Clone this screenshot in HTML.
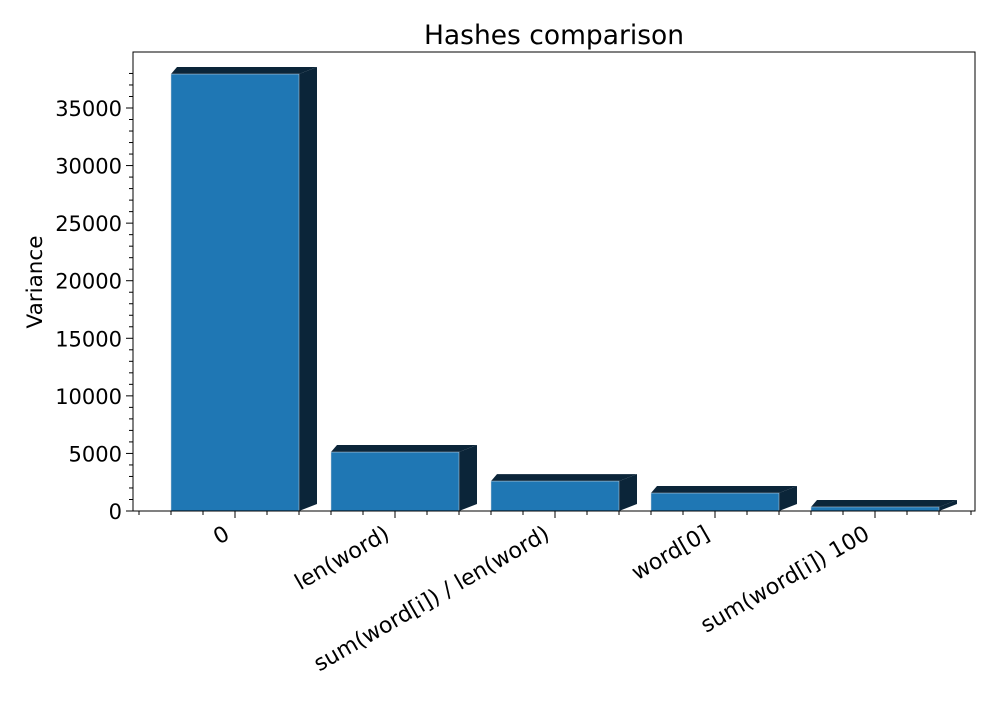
<!DOCTYPE html>
<html><head><meta charset="utf-8"><style>
body{margin:0;background:#fff}
svg{font-family:"DejaVu Sans","Liberation Sans",sans-serif}
</style></head><body>
<svg id="chart" width="1000" height="700" viewBox="0 0 1000 700">
<text x="554" y="44" font-size="26.5" text-anchor="middle">Hashes comparison</text>
<text transform="translate(42,282) rotate(-90)" font-size="21.5" text-anchor="middle">Variance</text>
<g id="bars"></g>
<g id="axes"></g>
<rect x="133" y="52" width="842" height="459" fill="none" stroke="#000" stroke-width="1"/>
</svg>
<script>
const categories = ["0","len(word)","sum(word[i]) / len(word)","word[0]","sum(word[i]) 100"];
const values = [37950, 5120, 2600, 1560, 350];
const yTicks = [0,5000,10000,15000,20000,25000,30000,35000];

const L=133,R=975,T=52,B=511;
const yScale=v=>B-v*(B-108)/35000;
const step=160, x0=235;
const xScale=i=>x0+i*step;
const NS="http://www.w3.org/2000/svg";
function mk(tag,attrs,parent){const e=document.createElementNS(NS,tag);for(const k in attrs)e.setAttribute(k,attrs[k]);parent.appendChild(e);return e;}
const gb=document.getElementById('bars'), ga=document.getElementById('axes');
const hw=64, dx=18, dy=7;
values.forEach((v,i)=>{
  const c=xScale(i), xa=c-hw, xb=c+hw, top=yScale(v);
  const g=mk('g',{},gb);
  
  
  mk('polygon',{points:`${xb},${top} ${xb+dx},${top-dy} ${xb+dx},${B-dy} ${xb},${B}`,fill:'#0b2539'},g);
  mk('polygon',{points:`${xa},${top} ${xa+6},${top-dy} ${xb+dx},${top-dy} ${xb},${top}`,fill:'#0b2539'},g);
  mk('rect',{x:xa,y:top,width:xb-xa,height:B-top,fill:'#1f77b4',stroke:'#c9d3dc','stroke-width':0.5},g);
});
yTicks.forEach(t=>{
  const y=yScale(t);
  mk('line',{x1:L-7,x2:L,y1:y,y2:y,stroke:'#000'},ga);
  const tx=mk('text',{x:L-11,y:y+8,'font-size':21,'text-anchor':'end'},ga);
  tx.textContent=t;
  
  
});
for(let v=0;v<=38000;v+=1000){ if(v%5000){const y=yScale(v);mk('line',{x1:L-4,x2:L,y1:y,y2:y,stroke:'#000'},ga);} }
for(let x=139;x<=975;x+=32){ mk('line',{x1:x,x2:x,y1:B,y2:B+4,stroke:'#000'},ga); }
categories.forEach((c,i)=>{
  const x=xScale(i);
  mk('line',{x1:x,x2:x,y1:B,y2:B+7,stroke:'#000'},ga);
  const tx=mk('text',{transform:`translate(${x-4},${B+27}) rotate(-30)`,'font-size':22,'text-anchor':'end'},ga);
  tx.textContent=c;
  
  
});
</script>
</body></html>
